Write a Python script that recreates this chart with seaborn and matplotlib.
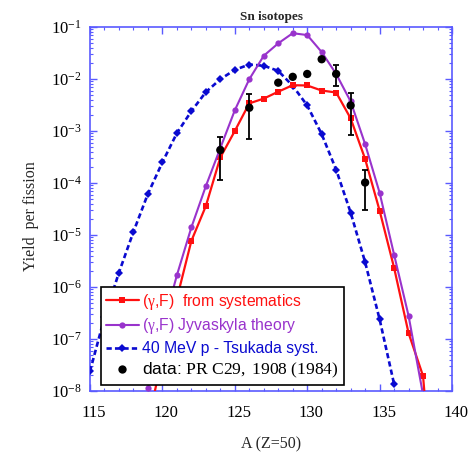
import numpy as np
import matplotlib
matplotlib.use("Agg")
import matplotlib.pyplot as plt
import matplotlib.transforms as mtrans
from matplotlib.lines import Line2D
from matplotlib.ticker import LogLocator, MultipleLocator, LogFormatterMathtext, NullFormatter
import seaborn as sns

# (gamma,F) yields from systematics
mass_sys = [119, 120, 121, 122, 123, 124, 125, 126, 127, 128, 129,
            130, 131, 132, 133, 134, 135, 136, 137, 138, 139]
yield_sys = [2.5e-9, 4.5e-8, 6.0e-7, 7.7e-6, 3.6e-5, 3.1e-4, 1.0e-3, 3.4e-3, 4.2e-3, 5.7e-3, 7.6e-3,
             7.5e-3, 6.0e-3, 5.5e-3, 1.75e-3, 2.9e-4, 2.95e-5, 2.35e-6, 1.3e-7, 1.95e-8, 1.0e-11]

# (gamma,F) yields from Jyvaskyla theory
mass_jyv = [119, 120, 121, 122, 123, 124, 125, 126, 127, 128, 129,
            130, 131, 132, 133, 134, 135, 136, 137, 138]
yield_jyv = [1.15e-8, 1.6e-7, 1.68e-6, 1.4e-5, 8.7e-5, 4.7e-4, 2.5e-3, 9.9e-3, 2.8e-2, 4.85e-2, 7.6e-2,
             7.0e-2, 3.3e-2, 1.25e-2, 3.7e-3, 5.6e-4, 6.5e-5, 4.2e-6, 2.8e-7, 8.5e-9]

# 40 MeV proton, Tsukada systematics
mass_tsu = [115, 116, 117, 118, 119, 120, 121, 122, 123, 124, 125,
            126, 127, 128, 129, 130, 131, 132, 133, 134, 135, 136]
yield_tsu = [2.4e-8, 2.6e-7, 1.9e-6, 1.15e-5, 6.2e-5, 2.5e-4, 9.1e-4, 2.4e-3, 5.6e-3, 9.9e-3, 1.5e-2,
             1.9e-2, 1.8e-2, 1.43e-2, 7.4e-3, 3.1e-3, 8.7e-4, 1.8e-4, 2.7e-5, 3.0e-6, 2.4e-7, 1.36e-8]

# measured yields, PR C29, 1908 (1984)
mass_data = [124, 126, 128, 129, 130, 131, 132, 133, 134]
yield_data = [4.3e-4, 2.8e-3, 8.5e-3, 1.1e-2, 1.25e-2, 2.4e-2, 1.25e-2, 3.1e-3, 1.02e-4]
err_mass = [124, 126, 132, 133, 134]
err_center = [4.3e-4, 2.8e-3, 1.25e-2, 3.1e-3, 1.02e-4]
err_low = [1.15e-4, 7.1e-4, 7.4e-3, 8.3e-4, 3.0e-5]
err_high = [7.6e-4, 5.1e-3, 1.86e-2, 5.5e-3, 1.8e-4]

x_ticks = [115, 120, 125, 130, 135, 140]

RED = "#ff1010"
PURPLE = "#9933cc"
BLUE = "#0a0ad0"
SPINE = "#5a5aff"

sns.set_style("ticks")
plt.rcParams.update({
    "font.family": ["Liberation Serif", "DejaVu Serif"],
    "mathtext.fontset": "custom",
    "mathtext.rm": "Liberation Serif",
    "mathtext.it": "Liberation Serif:italic",
    "mathtext.bf": "Liberation Serif:bold",
})

fig = plt.figure(figsize=(4.69, 4.55), dpi=100)
ax = fig.add_axes([90 / 469, 1 - 391 / 455, 362 / 469, 364 / 455])
ax.set_yscale("log")

sns.lineplot(x=mass_tsu, y=yield_tsu, ax=ax, color=BLUE, marker="D", markersize=4.2,
             markeredgewidth=0, linewidth=1.9, linestyle=(0, (2.0, 1.2)), zorder=3)
sns.lineplot(x=mass_sys, y=yield_sys, ax=ax, color=RED, marker="s", markersize=4.3,
             markeredgewidth=0, linewidth=1.6, zorder=4)
sns.lineplot(x=mass_jyv, y=yield_jyv, ax=ax, color=PURPLE, marker="o", markersize=4.5,
             markeredgewidth=0, linewidth=1.5, zorder=4)

ec = np.array(err_center)
ax.errorbar(err_mass, err_center,
            yerr=[ec - np.array(err_low), np.array(err_high) - ec],
            fmt="none", ecolor="black", elinewidth=1.3, capsize=2.5, capthick=1.3, zorder=5)
sns.scatterplot(x=mass_data, y=yield_data, ax=ax, color="black", s=36,
                edgecolor="none", linewidth=0, zorder=6)

ax.set_xlim(115, 140)
ax.set_ylim(1e-8, 1e-1)
ax.set_xticks(x_ticks)
ax.xaxis.set_minor_locator(MultipleLocator(1))
ax.yaxis.set_major_locator(LogLocator(base=10, numticks=20))
ax.yaxis.set_minor_locator(LogLocator(base=10, subs=np.arange(2, 10), numticks=20))
ax.yaxis.set_major_formatter(LogFormatterMathtext())
ax.yaxis.set_minor_formatter(NullFormatter())

for s in ax.spines.values():
    s.set_color(SPINE)
    s.set_linewidth(1.2)
    s.set_visible(True)

ax.tick_params(which="both", direction="in", top=True, right=True,
               color=SPINE, labelcolor="black", labelsize=12)
ax.tick_params(which="major", length=5, width=1)
ax.tick_params(which="minor", length=2.5, width=0.8)
ax.tick_params(axis="x", which="major", pad=10)
ax.tick_params(axis="y", which="major", pad=6)

shift = mtrans.ScaledTranslation(4 / 100, 0, fig.dpi_scale_trans)
for lbl in ax.get_xticklabels():
    lbl.set_transform(lbl.get_transform() + shift)

ax.set_title("Sn isotopes", fontsize=9.5, fontweight="bold", pad=5)
ax.set_xlabel("A (Z=50)", fontsize=11.5)
ax.set_ylabel("Yield  per fission", fontsize=11.5)
ax.xaxis.set_label_coords(0.5, -0.125)
ax.yaxis.set_label_coords(-0.14, 0.48)

handles = [
    Line2D([], [], color=RED, marker="s", markersize=4.3, markeredgewidth=0, linewidth=1.6),
    Line2D([], [], color=PURPLE, marker="o", markersize=4.5, markeredgewidth=0, linewidth=1.5),
    Line2D([], [], color=BLUE, marker="D", markersize=4.2, markeredgewidth=0, linewidth=1.9,
           linestyle=(0, (2.0, 1.2))),
    Line2D([], [], color="black", marker="o", markersize=6, markeredgewidth=0, linestyle="none"),
]
labels = [
    r"($\mathrm{\gamma}$,F)  from systematics",
    r"($\mathrm{\gamma}$,F) Jyvaskyla theory",
    "40 MeV p - Tsukada syst.",
    r"data: $\mathrm{PR\ C29,\ 1908\ (1984)}$",
]
leg = ax.legend(handles, labels, loc="upper left", bbox_to_anchor=(0.03, 0.286),
                borderaxespad=0, frameon=True, fancybox=False, framealpha=1,
                edgecolor="black", handlelength=2.1, handletextpad=0.25,
                labelspacing=0.3, borderpad=0.3,
                prop={"family": ["Liberation Sans", "DejaVu Sans"], "size": 11.3})
leg.get_frame().set_linewidth(1.2)
leg.set_zorder(10)
for txt, col in zip(leg.get_texts(), [RED, PURPLE, BLUE, "black"]):
    txt.set_color(col)
leg.get_texts()[3].set_fontsize(12.6)

fig.savefig("out.png", dpi=100)
